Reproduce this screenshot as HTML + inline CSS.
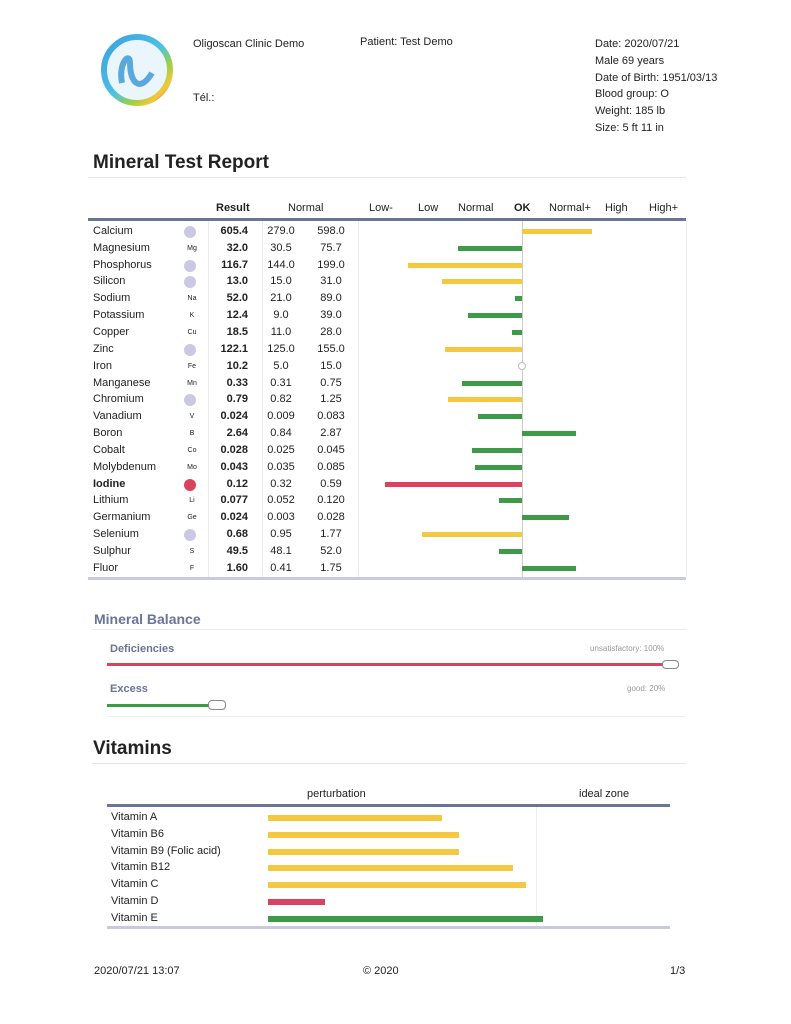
<!DOCTYPE html>
<html><head><meta charset="utf-8"><style>
*{margin:0;padding:0;box-sizing:border-box}
body{width:791px;height:1024px;background:#fff;position:relative;font-family:"Liberation Sans",Arial,sans-serif;color:#222;overflow:hidden}
.a{position:absolute;white-space:nowrap}
.s{font-size:11px}
.r{position:absolute;left:88px;width:598px;height:17px;font-size:11px}
.r span{position:absolute;top:2px}
.n{left:5px}.sy{left:97px;font-size:7px;top:5px!important;width:14px;text-align:center}
.res{left:120px;width:40px;text-align:right;font-weight:bold}
.n1{left:178px;width:30px;text-align:center}.n2{left:228px;width:30px;text-align:center}
.c{position:absolute;top:3px;left:96px;width:12px;height:12px;border-radius:50%;background:#c9c9e6}
.b{position:absolute;top:6px;height:5px}
.y{background:#f5c842}.g{background:#3e9a48}.rd{background:#d9435d}
.vr{position:absolute;left:107px;width:563px;height:17px;font-size:11px}
.vr span{position:absolute;left:4px;top:2px}
.vb{position:absolute;top:6px;height:6px;left:161px}
</style></head><body>
<svg class="a" style="left:100px;top:33px" width="74" height="74" viewBox="0 0 74 74">
<defs><linearGradient id="gr" x1="0" y1="0" x2="1" y2="1"><stop offset="0" stop-color="#3aa0e0"/><stop offset=".5" stop-color="#4cc0e8"/><stop offset=".7" stop-color="#9bd04a"/><stop offset=".85" stop-color="#f3c83a"/><stop offset="1" stop-color="#e84a4a"/></linearGradient></defs>
<circle cx="37" cy="37" r="33" fill="#eaf5fc" stroke="url(#gr)" stroke-width="6"/>
<path d="M22 50 C18 30 30 18 30 30 C30 50 40 60 52 40" stroke="#5aa8dc" stroke-width="6" fill="none"/>
</svg>
<div class="a s" style="left:193px;top:38px">Oligoscan Clinic Demo</div>
<div class="a s" style="left:193px;top:92px">Tél.:</div>
<div class="a s" style="left:360px;top:36px">Patient: Test Demo</div>
<div class="a s" style="left:595px;top:36px;line-height:16.8px">Date: 2020/07/21<br>Male 69 years<br>Date of Birth: 1951/03/13<br>Blood group: O<br>Weight: 185 lb<br>Size: 5 ft 11 in</div>
<div class="a" style="left:93px;top:152px;font-size:19px;font-weight:bold">Mineral Test Report</div>
<div class="a" style="left:88px;top:177px;width:598px;border-top:1px solid #e6e6e6"></div>
<div class="a s" style="left:216px;top:202px;font-weight:bold">Result</div>
<div class="a s" style="left:288px;top:202px">Normal</div>
<div class="a s" style="left:369px;top:202px">Low-</div>
<div class="a s" style="left:418px;top:202px">Low</div>
<div class="a s" style="left:458px;top:202px">Normal</div>
<div class="a s" style="left:514px;top:202px;font-weight:bold">OK</div>
<div class="a s" style="left:549px;top:202px">Normal+</div>
<div class="a s" style="left:605px;top:202px">High</div>
<div class="a s" style="left:649px;top:202px">High+</div>
<div class="a" style="left:88px;top:218px;width:598px;height:3px;background:#6b7399"></div>
<div class="a" style="left:208px;top:221px;height:356px;border-left:1px solid #ececec"></div>
<div class="a" style="left:262px;top:221px;height:356px;border-left:1px solid #ececec"></div>
<div class="a" style="left:358px;top:221px;height:356px;border-left:1px solid #ececec"></div>
<div class="a" style="left:686px;top:221px;height:356px;border-left:1px solid #ececec"></div>
<div class="a" style="left:522px;top:221px;height:356px;border-left:1px solid #ccc"></div>
<div class="a" style="left:88px;top:577px;width:598px;height:3px;background:#c8cbe0"></div>

<div class="r" style="top:223px"><span class="n">Calcium</span><i class="c"></i><span class="res">605.4</span><span class="n1">279.0</span><span class="n2">598.0</span><i class="b y" style="left:434px;width:70px"></i></div>
<div class="r" style="top:240px"><span class="n">Magnesium</span><span class="sy">Mg</span><span class="res">32.0</span><span class="n1">30.5</span><span class="n2">75.7</span><i class="b g" style="left:370px;width:64px"></i></div>
<div class="r" style="top:257px"><span class="n">Phosphorus</span><i class="c"></i><span class="res">116.7</span><span class="n1">144.0</span><span class="n2">199.0</span><i class="b y" style="left:320px;width:114px"></i></div>
<div class="r" style="top:273px"><span class="n">Silicon</span><i class="c"></i><span class="res">13.0</span><span class="n1">15.0</span><span class="n2">31.0</span><i class="b y" style="left:354px;width:80px"></i></div>
<div class="r" style="top:290px"><span class="n">Sodium</span><span class="sy">Na</span><span class="res">52.0</span><span class="n1">21.0</span><span class="n2">89.0</span><i class="b g" style="left:427px;width:7px"></i></div>
<div class="r" style="top:307px"><span class="n">Potassium</span><span class="sy">K</span><span class="res">12.4</span><span class="n1">9.0</span><span class="n2">39.0</span><i class="b g" style="left:380px;width:54px"></i></div>
<div class="r" style="top:324px"><span class="n">Copper</span><span class="sy">Cu</span><span class="res">18.5</span><span class="n1">11.0</span><span class="n2">28.0</span><i class="b g" style="left:424px;width:10px"></i></div>
<div class="r" style="top:341px"><span class="n">Zinc</span><i class="c"></i><span class="res">122.1</span><span class="n1">125.0</span><span class="n2">155.0</span><i class="b y" style="left:357px;width:77px"></i></div>
<div class="r" style="top:358px"><span class="n">Iron</span><span class="sy">Fe</span><span class="res">10.2</span><span class="n1">5.0</span><span class="n2">15.0</span><i style="position:absolute;left:430px;top:4px;width:8px;height:8px;border:1px solid #bbb;border-radius:50%;background:#fff"></i></div>
<div class="r" style="top:375px"><span class="n">Manganese</span><span class="sy">Mn</span><span class="res">0.33</span><span class="n1">0.31</span><span class="n2">0.75</span><i class="b g" style="left:374px;width:60px"></i></div>
<div class="r" style="top:391px"><span class="n">Chromium</span><i class="c"></i><span class="res">0.79</span><span class="n1">0.82</span><span class="n2">1.25</span><i class="b y" style="left:360px;width:74px"></i></div>
<div class="r" style="top:408px"><span class="n">Vanadium</span><span class="sy">V</span><span class="res">0.024</span><span class="n1">0.009</span><span class="n2">0.083</span><i class="b g" style="left:390px;width:44px"></i></div>
<div class="r" style="top:425px"><span class="n">Boron</span><span class="sy">B</span><span class="res">2.64</span><span class="n1">0.84</span><span class="n2">2.87</span><i class="b g" style="left:434px;width:54px"></i></div>
<div class="r" style="top:442px"><span class="n">Cobalt</span><span class="sy">Co</span><span class="res">0.028</span><span class="n1">0.025</span><span class="n2">0.045</span><i class="b g" style="left:384px;width:50px"></i></div>
<div class="r" style="top:459px"><span class="n">Molybdenum</span><span class="sy">Mo</span><span class="res">0.043</span><span class="n1">0.035</span><span class="n2">0.085</span><i class="b g" style="left:387px;width:47px"></i></div>
<div class="r" style="top:476px"><span class="n" style="font-weight:bold">Iodine</span><i class="c" style="background:#d9435d"></i><span class="res">0.12</span><span class="n1">0.32</span><span class="n2">0.59</span><i class="b rd" style="left:297px;width:137px"></i></div>
<div class="r" style="top:492px"><span class="n">Lithium</span><span class="sy">Li</span><span class="res">0.077</span><span class="n1">0.052</span><span class="n2">0.120</span><i class="b g" style="left:411px;width:23px"></i></div>
<div class="r" style="top:509px"><span class="n">Germanium</span><span class="sy">Ge</span><span class="res">0.024</span><span class="n1">0.003</span><span class="n2">0.028</span><i class="b g" style="left:434px;width:47px"></i></div>
<div class="r" style="top:526px"><span class="n">Selenium</span><i class="c"></i><span class="res">0.68</span><span class="n1">0.95</span><span class="n2">1.77</span><i class="b y" style="left:334px;width:100px"></i></div>
<div class="r" style="top:543px"><span class="n">Sulphur</span><span class="sy">S</span><span class="res">49.5</span><span class="n1">48.1</span><span class="n2">52.0</span><i class="b g" style="left:411px;width:23px"></i></div>
<div class="r" style="top:560px"><span class="n">Fluor</span><span class="sy">F</span><span class="res">1.60</span><span class="n1">0.41</span><span class="n2">1.75</span><i class="b g" style="left:434px;width:54px"></i></div>

<div class="a" style="left:94px;top:611px;font-size:14px;font-weight:bold;color:#6b7399">Mineral Balance</div>
<div class="a" style="left:92px;top:629px;width:594px;border-top:1px solid #e8e8e8"></div>
<div class="a" style="left:110px;top:643px;font-size:11px;font-weight:bold;color:#6b7399">Deficiencies</div>
<div class="a" style="left:590px;top:644px;font-size:8px;color:#999">unsatisfactory: 100%</div>
<div class="a" style="left:107px;top:663px;width:557px;height:3px;background:#d9435d"></div>
<div class="a" style="left:662px;top:660px;width:17px;height:9px;border:1px solid #888;border-radius:4px;background:#fff"></div>
<div class="a" style="left:110px;top:683px;font-size:11px;font-weight:bold;color:#6b7399">Excess</div>
<div class="a" style="left:627px;top:684px;font-size:8px;color:#999">good: 20%</div>
<div class="a" style="left:107px;top:704px;width:103px;height:3px;background:#3e9a48"></div>
<div class="a" style="left:208px;top:700px;width:18px;height:10px;border:1px solid #888;border-radius:4px;background:#fff"></div>
<div class="a" style="left:107px;top:716px;width:579px;border-top:1px solid #efefef"></div>

<div class="a" style="left:93px;top:738px;font-size:19px;font-weight:bold">Vitamins</div>
<div class="a" style="left:92px;top:763px;width:594px;border-top:1px solid #e6e6e6"></div>
<div class="a s" style="left:307px;top:788px">perturbation</div>
<div class="a s" style="left:579px;top:788px">ideal zone</div>
<div class="a" style="left:107px;top:804px;width:563px;height:3px;background:#6b7399"></div>
<div class="a" style="left:536px;top:807px;height:120px;border-left:1px solid #eee"></div>
<div class="a" style="left:107px;top:926px;width:563px;height:3px;background:#c8cbe0"></div>
<div class="vr" style="top:809px"><span>Vitamin A</span><i class="vb y" style="width:174px"></i></div>
<div class="vr" style="top:826px"><span>Vitamin B6</span><i class="vb y" style="width:191px"></i></div>
<div class="vr" style="top:843px"><span>Vitamin B9 (Folic acid)</span><i class="vb y" style="width:191px"></i></div>
<div class="vr" style="top:859px"><span>Vitamin B12</span><i class="vb y" style="width:245px"></i></div>
<div class="vr" style="top:876px"><span>Vitamin C</span><i class="vb y" style="width:258px"></i></div>
<div class="vr" style="top:893px"><span>Vitamin D</span><i class="vb rd" style="width:57px"></i></div>
<div class="vr" style="top:910px"><span>Vitamin E</span><i class="vb g" style="width:275px"></i></div>

<div class="a s" style="left:94px;top:965px">2020/07/21 13:07</div>
<div class="a s" style="left:363px;top:965px">© 2020</div>
<div class="a s" style="left:670px;top:965px">1/3</div>
</body></html>
